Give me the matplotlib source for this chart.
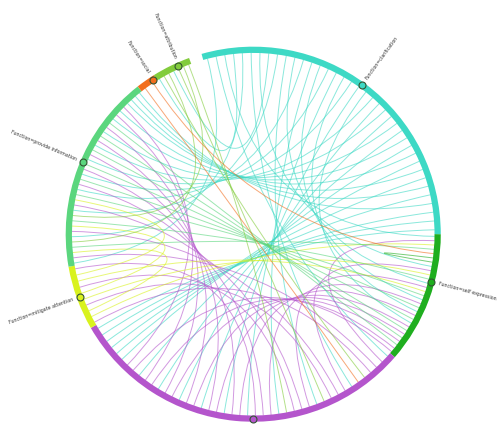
import numpy as np
import matplotlib
matplotlib.use("Agg")
import matplotlib.pyplot as plt
from matplotlib.path import Path
from matplotlib.patches import PathPatch, Arc

# Groups: name, arc start (deg), arc end (deg), colour, label
groups = ["clarification", "self_expression", "other", "mitigate", "provide", "social", "attribution"]
labels = ["Function=clarification", "Function=self expression", "", "Function=mitigate attention",
          "Function=provide information", "Function=social", "Function=attribution"]
arc_start = [0, -41, -150, -170, 128, 122, 110]
arc_end = [106, 0, -41, -150, 190, 128, 122]
colors = ["#3dd9c5", "#1fae1f", "#b455cc", "#d9f21e", "#5bd67e", "#f26e1e", "#82cc3c"]
marker_deg = [54, -15, -90, 200, 157, 123, 114]

# Links: source, target, count (chord colour = source colour)
link_src = ["clarification", "clarification", "clarification", "clarification",
            "other", "other", "other", "mitigate", "mitigate",
            "provide", "attribution", "attribution", "social", "social", "self_expression"]
link_tgt = ["provide", "other", "self_expression", "attribution",
            "self_expression", "provide", "mitigate", "self_expression", "provide",
            "self_expression", "other", "provide", "other", "self_expression", "self_expression"]
link_cnt = [14, 16, 6, 2, 10, 10, 4, 3, 3, 8, 3, 2, 1, 1, 1]

cx, cy, R = 0.0, 0.0, 1.0
fig = plt.figure(figsize=(5.0, 4.26), dpi=100)
ax = fig.add_axes([0.0, 0.0, 1.0, 1.0])
ax.set_xlim(-1.37, 1.335)
ax.set_ylim(-1.04, 1.27)
ax.set_aspect("equal")
ax.axis("off")

# endpoints per group, interleaved round-robin across links
ends = {g: [] for g in groups}
for g in groups:
    lists = []
    for li, (s, t, n) in enumerate(zip(link_src, link_tgt, link_cnt)):
        if s == g:
            lists.append([(s, t, k, 0) for k in range(n)])
        if t == g:
            lists.append([(s, t, k, 1) for k in range(n)])
    i = 0
    while any(lists):
        for l in lists:
            if l:
                ends[g].append(l.pop(0))
pos = {}
for gi, g in enumerate(groups):
    e = ends[g]
    a0, a1 = arc_start[gi], arc_end[gi]
    m = len(e)
    for j, key in enumerate(e):
        pos[key] = np.deg2rad(a1 - (j + 0.5) * (a1 - a0) / m)

for s, t, n in zip(link_src, link_tgt, link_cnt):
    col = colors[groups.index(s)]
    for k in range(n):
        a = pos[(s, t, k, 0)]
        b = pos[(s, t, k, 1)]
        p0 = (R * 0.985 * np.cos(a), R * 0.985 * np.sin(a))
        p1 = (R * 0.985 * np.cos(b), R * 0.985 * np.sin(b))
        if s == t:
            ctrl = (0.45 * (p0[0] + p1[0]) / 2, 0.45 * (p0[1] + p1[1]) / 2)
        else:
            ctrl = (0.0, 0.0)
        path = Path([p0, ctrl, p1], [Path.MOVETO, Path.CURVE3, Path.CURVE3])
        ax.add_patch(PathPatch(path, fc="none", ec=col, lw=0.7, alpha=0.6))

for gi, g in enumerate(groups):
    ax.add_patch(Arc((cx, cy), 2 * R, 2 * R, theta1=arc_start[gi], theta2=arc_end[gi],
                     color=colors[gi], lw=4.5))
    md = np.deg2rad(marker_deg[gi])
    ax.plot(R * np.cos(md), R * np.sin(md), "o", ms=5, mfc=colors[gi], mec="#335533", mew=0.8, zorder=5)
    if labels[gi]:
        rot = marker_deg[gi]
        ha = "left"
        if 90 < rot < 270:
            rot -= 180
            ha = "right"
        ax.text(1.04 * np.cos(md), 1.04 * np.sin(md), labels[gi], fontsize=3.4, rotation=rot,
                rotation_mode="anchor", ha=ha, va="center", color="#333333")

fig.savefig("out.png", dpi=100)
